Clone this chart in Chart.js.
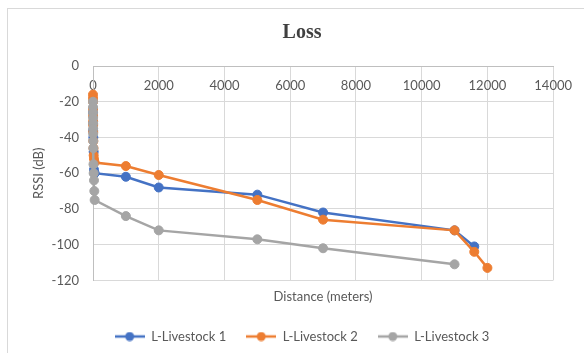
<!DOCTYPE html>
<html>
<head>
<meta charset="utf-8">
<script src="https://cdn.jsdelivr.net/npm/chart.js@4.4.1/dist/chart.umd.min.js"></script>
<style>
  body { margin: 0; background: #fff; }
  #frame { position: absolute; left: 7px; top: 8px; width: 600px; height: 360px; border: 1px solid #d9d9d9; }
  #lossChart { position: absolute; left: 0; top: 0; }
</style>
</head>
<body>
<div id="frame"></div>
<canvas id="lossChart" width="584" height="353"></canvas>
<script>
// Data (distance in meters, RSSI in dB)
const seriesNames = ['L-Livestock 1', 'L-Livestock 2', 'L-Livestock 3'];

const distance1 = [0, 2, 5, 10, 20, 30, 50, 1000, 2000, 5000, 7000, 11000, 11600];
const rssi1 = [-26, -32, -36, -40, -48, -58, -60, -62, -68, -72, -82, -92, -101];

const distance2 = [0, 1, 2, 3, 4, 5, 6, 8, 10, 15, 20, 30, 50, 1000, 2000, 5000, 7000, 11000, 11600, 12000];
const rssi2 = [-16, -18, -20, -24, -28, -31, -33, -37, -42, -46, -50, -52, -54, -56, -61, -75, -86, -92, -104, -113];

const distance3 = [0, 1, 2, 3, 4, 5, 6, 8, 10, 15, 20, 30, 40, 50, 1000, 2000, 5000, 7000, 11000];
const rssi3 = [-20, -23, -26, -29, -32, -35, -38, -42, -46, -55, -60, -64, -70, -75, -84, -92, -97, -102, -111];

const xTicks = [0, 2000, 4000, 6000, 8000, 10000, 12000, 14000];

const colors = ['#4472C4', '#ED7D31', '#A5A5A5'];

function toPoints(xs, ys) {
    return xs.map((x, i) => ({ x: x, y: ys[i] }));
}

// little line+dot markers for the legend
function makeMarker(color) {
    const c = document.createElement('canvas');
    c.width = 30;
    c.height = 10;
    const g = c.getContext('2d');
    g.strokeStyle = color;
    g.lineWidth = 2.5;
    g.beginPath();
    g.moveTo(0, 5);
    g.lineTo(30, 5);
    g.stroke();
    g.fillStyle = color;
    g.beginPath();
    g.arc(15, 5, 4.5, 0, Math.PI * 2);
    g.fill();
    return c;
}
const markers = colors.map(makeMarker);

const tickFont = { family: 'Lato', size: 13 };
const textColor = '#595959';

function makeDataset(i, xs, ys) {
    return {
        label: seriesNames[i],
        data: toPoints(xs, ys),
        borderColor: colors[i],
        backgroundColor: colors[i],
        pointBackgroundColor: colors[i],
        pointBorderColor: colors[i],
        borderWidth: 2.5,
        pointRadius: 4.5,
        pointBorderWidth: 1,
        fill: false,
        clip: false,
        order: 3 - i   // later series drawn on top, like Excel
    };
}

const ctx = document.getElementById('lossChart').getContext('2d');

const lossChart = new Chart(ctx, {
    type: 'line',
    data: {
        datasets: [
            makeDataset(0, distance1, rssi1),
            makeDataset(1, distance2, rssi2),
            makeDataset(2, distance3, rssi3)
        ]
    },
    options: {
        responsive: false,
        animation: false,
        devicePixelRatio: 1,
        layout: { padding: { left: 20, right: 0, top: 0, bottom: 0 } },
        plugins: {
            title: {
                display: true,
                text: 'Loss',
                color: '#404040',
                font: { family: 'Liberation Serif', size: 20, weight: 'bold', lineHeight: 1.2 },
                padding: { top: 21, bottom: 21 }
            },
            legend: {
                position: 'bottom',
                labels: {
                    usePointStyle: true,
                    pointStyleWidth: 30,
                    padding: 20,
                    color: textColor,
                    font: tickFont,
                    sort: (a, b) => a.datasetIndex - b.datasetIndex,
                    generateLabels: (chart) => {
                        const items = Chart.defaults.plugins.legend.labels.generateLabels(chart);
                        items.forEach(item => { item.pointStyle = markers[item.datasetIndex]; });
                        return items;
                    }
                }
            },
            tooltip: { enabled: false }
        },
        scales: {
            x: {
                type: 'linear',
                position: { y: 0 },
                min: 0,
                max: 14000,
                afterBuildTicks: (scale) => {
                    scale.ticks = xTicks.map(v => ({ value: v }));
                },
                ticks: {
                    color: textColor,
                    font: tickFont,
                    padding: 12,
                    maxRotation: 0,
                    callback: (v) => String(v)
                },
                grid: { color: '#d9d9d9', drawTicks: false },
                border: { color: '#bfbfbf' }
            },
            xTitle: {
                type: 'linear',
                position: 'bottom',
                ticks: { display: false },
                grid: { display: false, drawTicks: false },
                border: { display: false },
                title: {
                    display: true,
                    text: 'Distance (meters)',
                    color: textColor,
                    font: tickFont,
                    padding: { top: 9, bottom: 5 }
                }
            },
            y: {
                type: 'linear',
                min: -120,
                max: 0,
                afterFit: (scale) => { scale.width = 73; },
                ticks: { stepSize: 20, color: textColor, font: tickFont, padding: 14 },
                grid: { color: '#d9d9d9', drawTicks: false },
                border: { color: '#bfbfbf' },
                title: {
                    display: true,
                    text: 'RSSI (dB)',
                    color: textColor,
                    font: tickFont,
                    padding: { top: 11, bottom: 0 }
                }
            },
            yRight: {
                type: 'linear',
                position: 'right',
                afterFit: (scale) => { scale.width = 28; },
                ticks: { display: false },
                grid: { display: false, drawTicks: false },
                border: { display: false }
            }
        }
    }
});
</script>
</body>
</html>
